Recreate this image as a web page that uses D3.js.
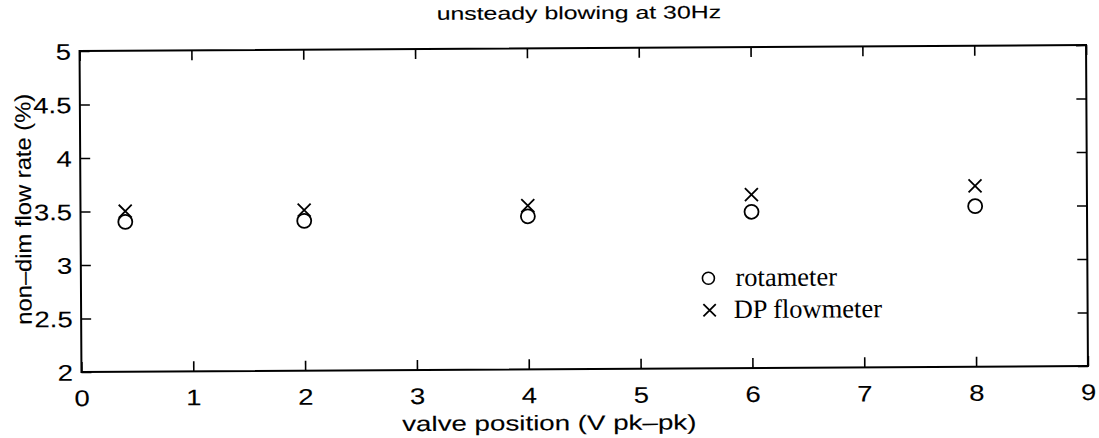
<!DOCTYPE html>
<html>
<head>
<meta charset="utf-8">
<script src="https://cdn.jsdelivr.net/npm/d3@7"></script>
<style>
  body { margin: 0; background: #fff; }
  svg { display: block; }
  .sans { stroke: #000; stroke-width: 0.12px; }
</style>
</head>
<body>
<svg id="chart" width="1099" height="438"></svg>
<script>
// Axis ticks
const xTicks = [0, 1, 2, 3, 4, 5, 6, 7, 8, 9];
const yTicks = [2, 2.5, 3, 3.5, 4, 4.5, 5];

// Measurements: valve drive amplitude vs. non-dimensional flow rate
const valvePositions = [0.4, 2, 4, 6, 8];
const rotameter      = [3.40, 3.40, 3.43, 3.46, 3.50];
const dpFlowmeter    = [3.50, 3.50, 3.53, 3.62, 3.69];

const seriesNames = ["rotameter", "DP flowmeter"];
const chartTitle = "unsteady blowing at 30Hz";
const xTitle = "valve position (V pk\u2013pk)";
const yTitle = "non\u2013dim flow rate (%)";

// Layout
const W = 1099, H = 438;
const box = { left: 80.5, right: 1087, top: 48, bottom: 369 };
const tickLen = 10;
const tickFont = 22.5, tickStretch = 1.22;
const sansFont = "'Liberation Sans', Arial, Helvetica, sans-serif";
const serifFont = "'Liberation Serif', 'Times New Roman', serif";

const svg = d3.select("#chart").attr("width", W).attr("height", H);
const cx = (box.left + box.right) / 2, cy = (box.top + box.bottom) / 2;
// whole page sits very slightly askew
const root = svg.append("g").attr("transform", `rotate(-0.34 ${cx} ${cy})`);

const x = d3.scaleLinear().domain([0, 9]).range([box.left, box.right]);
const y = d3.scaleLinear().domain([2, 5]).range([box.bottom, box.top]);

// Axes (ticks point inward on all four sides)
function styleAxis(sel) {
  sel.select(".domain").remove();
  sel.selectAll(".tick line").attr("stroke", "#000").attr("stroke-width", 1.6);
  sel.selectAll("text")
    .attr("class", "sans")
    .attr("fill", "#000")
    .style("font-family", sansFont)
    .style("font-size", tickFont + "px");
}

const xAxisB = root.append("g")
  .attr("transform", `translate(0,${box.bottom})`)
  .call(d3.axisBottom(x).tickValues(xTicks).tickFormat(d3.format("d"))
        .tickSizeInner(-tickLen).tickSizeOuter(0).tickPadding(0));
styleAxis(xAxisB);
xAxisB.selectAll("text").attr("y", 34).attr("dy", null)
  .attr("transform", `scale(${tickStretch},1)`);

const xAxisT = root.append("g")
  .attr("transform", `translate(0,${box.top})`)
  .call(d3.axisTop(x).tickValues(xTicks).tickFormat("")
        .tickSizeInner(-tickLen).tickSizeOuter(0));
styleAxis(xAxisT);

const yAxisL = root.append("g")
  .attr("transform", `translate(${box.left},0)`)
  .call(d3.axisLeft(y).tickValues(yTicks).tickFormat(d => String(d))
        .tickSizeInner(-tickLen).tickSizeOuter(0).tickPadding(0));
styleAxis(yAxisL);
yAxisL.selectAll("text").attr("x", -7).attr("dy", "0.36em")
  .attr("text-anchor", "end").attr("transform", `scale(${tickStretch},1)`);

const yAxisR = root.append("g")
  .attr("transform", `translate(${box.right},0)`)
  .call(d3.axisRight(y).tickValues(yTicks).tickFormat("")
        .tickSizeInner(-tickLen).tickSizeOuter(0));
styleAxis(yAxisR);

// Frame
root.append("rect")
  .attr("x", box.left).attr("y", box.top)
  .attr("width", box.right - box.left).attr("height", box.bottom - box.top)
  .attr("fill", "none").attr("stroke", "#000").attr("stroke-width", 2);

// Titles
root.append("text")
  .attr("class", "sans")
  .attr("transform", `translate(580,19) scale(1.38,1)`)
  .attr("text-anchor", "middle")
  .style("font-family", sansFont).style("font-size", "18px")
  .text(chartTitle);

root.append("text")
  .attr("class", "sans")
  .attr("transform", `translate(548,430) scale(1.32,1)`)
  .attr("text-anchor", "middle")
  .style("font-family", sansFont).style("font-size", "21px")
  .text(xTitle);

root.append("text")
  .attr("class", "sans")
  .attr("transform", `translate(31,206) rotate(-90) scale(1.08,1)`)
  .attr("text-anchor", "middle")
  .style("font-family", sansFont).style("font-size", "22px")
  .text(yTitle);

// Marker shapes
const circleR = 7, crossH = 6.5, markStroke = 1.8;
function drawCross(sel, px, py, h) {
  sel.append("path")
    .attr("d", `M${px - h},${py - h}L${px + h},${py + h}M${px - h},${py + h}L${px + h},${py - h}`)
    .attr("stroke", "#000").attr("stroke-width", markStroke).attr("fill", "none");
}

const marks = root.append("g");
marks.selectAll("circle.rot")
  .data(valvePositions.map((v, i) => ({ v, q: rotameter[i] })))
  .join("circle")
  .attr("class", "rot")
  .attr("cx", d => x(d.v)).attr("cy", d => y(d.q)).attr("r", circleR)
  .attr("fill", "none").attr("stroke", "#000").attr("stroke-width", markStroke);

valvePositions.forEach((v, i) => drawCross(marks, x(v), y(dpFlowmeter[i]), crossH));

// Legend
const legend = root.append("g");
legend.append("circle").attr("cx", 708).attr("cy", 279).attr("r", 6)
  .attr("fill", "none").attr("stroke", "#000").attr("stroke-width", 1.6);
drawCross(legend, 709, 311, 6.2);
legend.append("text").attr("x", 735).attr("y", 287)
  .style("font-family", serifFont).style("font-size", "26.5px").text(seriesNames[0]);
legend.append("text").attr("x", 733).attr("y", 319)
  .style("font-family", serifFont).style("font-size", "26.5px").text(seriesNames[1]);
</script>
</body>
</html>
